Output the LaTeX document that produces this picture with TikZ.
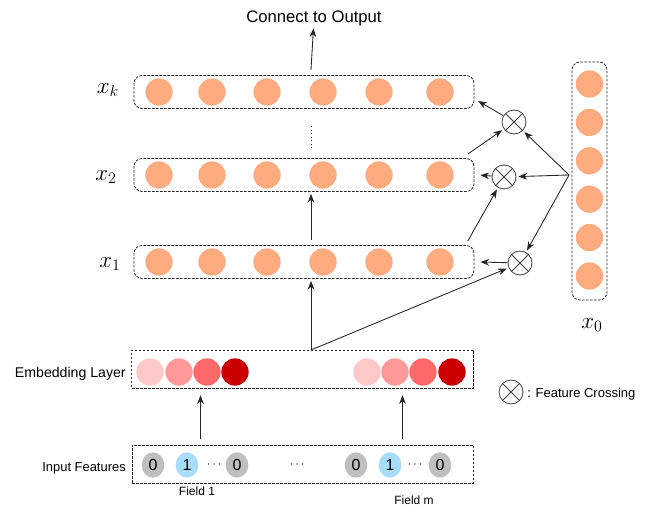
\documentclass[tikz,border=0pt]{standalone}
\usepackage{fontspec}
\setmainfont{Liberation Sans}
\usepackage{tikz}
\usetikzlibrary{arrows.meta,shapes,positioning,calc}
\usepackage{xcolor}
\definecolor{cnorange}{RGB}{255,171,128}
\definecolor{cnpink1}{RGB}{255,200,200}
\definecolor{cnpink2}{RGB}{255,153,153}
\definecolor{cnpink3}{RGB}{255,104,104}
\definecolor{cnred}{RGB}{204,0,0}
\definecolor{cngray}{RGB}{191,191,191}
\definecolor{cnblue}{RGB}{166,221,250}
\tikzstyle{arrow} = [-{Stealth[length=6.5pt,width=5pt,inset=2pt]},line width=0.65pt,color=black!85,shorten >=1.5pt]
\tikzstyle{rowbox} = [rectangle, rounded corners=6pt, draw=black!85, line width=0.6pt, dash pattern=on 2pt off 1pt, minimum width=255pt, minimum height=24.75pt]
\tikzstyle{layerbox} = [rectangle, draw=black!85, line width=0.6pt, dash pattern=on 2pt off 1pt, minimum width=256pt, minimum height=29pt]
\tikzstyle{neuron} = [circle, fill=cnorange, minimum size=20.5pt, inner sep=0pt]
\tikzstyle{embunit} = [circle, minimum size=20.5pt, inner sep=0pt]
\tikzstyle{bit} = [ellipse, minimum width=17pt, minimum height=19pt, inner sep=0pt, font=\fontsize{12}{13}\selectfont]
\tikzstyle{crossop} = [circle, draw=black!75, line width=0.6pt, minimum size=18pt, inner sep=0pt, path picture={\draw[black!75, line width=0.6pt] (path picture bounding box.north west) -- (path picture bounding box.south east) (path picture bounding box.north east) -- (path picture bounding box.south west);}]
\tikzstyle{mathlbl} = [inner sep=0pt, font=\fontsize{16.5}{18}\selectfont]
\tikzstyle{lbl} = [inner sep=0pt]

\begin{document}
\begin{tikzpicture}[x=0.75pt, y=-0.75pt]
\useasboundingbox (0,0) rectangle (649,505);

% Cross layers
\foreach \r/\y in {xk/92, x2/175, x1/262}{
  \node[rowbox] (\r) at (304,\y) {};
  \foreach \x [count=\i] in {159,212,267,323,379,440}
    \node[neuron] (\r-\i) at (\x,\y) {};
}
\node[mathlbl] (lk) at (108,90) {$x_k$};
\node[mathlbl] (l2) at (106,177) {$x_2$};
\node[mathlbl] (l1) at (110,264) {$x_1$};

% x0 column
\node[rowbox, minimum width=26.25pt, minimum height=178.5pt] (x0) at (589.5,181) {};
\foreach \y [count=\i] in {84,122.4,160.8,199.2,237.6,276}
  \node[neuron] (x0-\i) at (589.5,\y) {};
\node[mathlbl] (l0) at (592,325) {$x_0$};

% Feature crossing
\node[crossop] (c3) at (514,122) {};
\node[crossop] (c2) at (504,177) {};
\node[crossop] (c1) at (520,263) {};

% Embedding layer
\node[layerbox] (emb) at (302.5,369.5) {};
\node[lbl, anchor=east, font=\fontsize{10.6}{12}\selectfont] (emblbl) at (126,374) {Embedding Layer};
\foreach \x/\c [count=\i] in {150/cnpink1,179/cnpink2,207/cnpink3,235/cnred}
  \node[embunit, fill=\c] (e\i) at (\x,372) {};
\foreach \x/\c [count=\i] in {367/cnpink1,395/cnpink2,423/cnpink3,452/cnred}
  \node[embunit, fill=\c] (g\i) at (\x,372) {};

% Input features
\node[layerbox, minimum height=28.5pt] (in) at (303,464) {};
\node[lbl, anchor=east, font=\fontsize{9.7}{11}\selectfont] (inlbl) at (126,468.5) {Input Features};
\node[bit, fill=cngray] (a1) at (153,465) {0};
\node[bit, fill=cnblue] (a2) at (187,465) {1};
\node[bit] (a3) at (214,465) {\small$\cdots$};
\node[bit, fill=cngray] (a4) at (237,465) {0};
\node[bit] (mdots) at (297,465) {\small$\cdots$};
\node[bit, fill=cngray] (b1) at (356,465) {0};
\node[bit, fill=cnblue] (b2) at (390,465) {1};
\node[bit] (b3) at (415,465) {\small$\cdots$};
\node[bit, fill=cngray] (b4) at (440,465) {0};
\node[lbl, font=\fontsize{9}{11}\selectfont] (f1lbl) at (197,491) {Field 1};
\node[lbl, font=\fontsize{9}{11}\selectfont] (fmlbl) at (414,500) {Field m};

% Legend
\node[crossop] (lgd) at (511,392) {};
\node[lbl, anchor=west, font=\fontsize{9.75}{11}\selectfont] (lgdtxt) at (527,394.5) {: Feature Crossing};

% Output
\node[lbl, font=\fontsize{12.5}{14}\selectfont] (out) at (314,18.5) {Connect to Output};

% Connections
\coordinate (f1) at ($(a2)!.5!(a3)$);
\coordinate (fm) at ($(b2)!.5!(b3)$);
\draw[arrow] ([yshift=4pt]f1 |- in.north) -- ([yshift=-3pt]f1 |- emb.south);
\draw[arrow] ([yshift=4pt]fm |- in.north) -- ([yshift=-3pt]fm |- emb.south);

\coordinate (embtop) at (311,350);
\draw[arrow] (embtop) -- (c1);
\draw[arrow] (embtop) -- (embtop |- x1.south);
\draw[arrow] ([yshift=4pt]embtop |- x1.north) -- (embtop |- x2.south);
\draw[black!80, line width=0.6pt, dotted] ([yshift=-13pt]embtop |- xk.south) -- ([yshift=8pt]embtop |- x2.north);
\draw[arrow] ([yshift=4pt]embtop |- xk.north) -- (out);

\coordinate (src) at (569,175);
\draw[arrow] (src) -- (c3);
\draw[arrow] (src) -- (c2);
\draw[arrow] (src) -- (c1);
\draw[arrow] (c3) -- ([xshift=1.5pt,yshift=-6pt]xk.east);
\draw[arrow] (c2) -- ([xshift=3pt]x2.east);
\draw[arrow] (c1) -- ([xshift=3pt]x1.east);
\draw[arrow] ([xshift=-5pt,yshift=3pt]x2.north east) -- (c3);
\draw[arrow] ([xshift=-5pt,yshift=3pt]x1.north east) -- (c2);
\end{tikzpicture}
\end{document}
